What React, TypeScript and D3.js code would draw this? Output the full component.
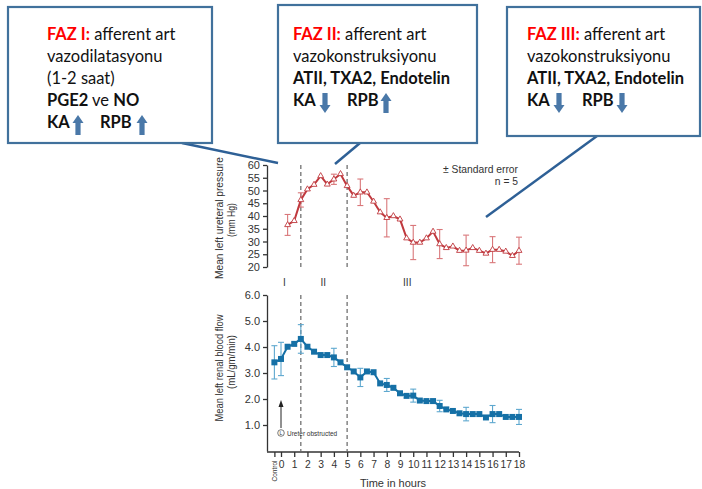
import React, { useEffect, useRef } from 'react';
import * as d3 from 'd3';

// ureteral pressure (mm Hg), every half hour after obstruction
const pressureHours = [0.5, 1, 1.5, 2, 2.5, 3, 3.5, 4, 4.5, 5, 5.5, 6, 6.5, 7, 7.5, 8, 8.5, 9, 9.5, 10, 10.5, 11, 11.5, 12, 12.5, 13, 13.5, 14, 14.5, 15, 15.5, 16, 16.5, 17, 17.5, 18];
const pressureValues = [36.5, 38.1, 46.3, 50.5, 52.3, 55.7, 52.4, 54.4, 56.5, 51.8, 48.0, 49.3, 49.3, 45.7, 41.5, 39.3, 40.0, 38.7, 31.3, 29.6, 29.6, 31.3, 33.9, 29.0, 27.5, 28.1, 26.4, 26.5, 27.5, 26.4, 25.3, 26.8, 26.8, 26.1, 24.4, 26.4];
const pressureErrHours = [0.5, 1.5, 4, 6, 8, 10, 12, 14, 16, 18];
const pressureErr = [4.1, 2.8, 2.0, 5.2, 7.5, 6.7, 5.7, 6.0, 5.1, 5.3];

// renal blood flow (mL/gm/min), -0.5 = control
const flowHours = [-0.5, 0, 0.5, 1, 1.5, 2, 2.5, 3, 3.5, 4, 4.5, 5, 5.5, 6, 6.5, 7, 7.5, 8, 8.5, 9, 9.5, 10, 10.5, 11, 11.5, 12, 12.5, 13, 13.5, 14, 14.5, 15, 15.5, 16, 16.5, 17, 17.5, 18];
const flowValues = [3.41, 3.54, 4.01, 4.12, 4.31, 4.01, 3.82, 3.69, 3.69, 3.6, 3.41, 3.22, 3.06, 2.83, 3.06, 3.03, 2.6, 2.54, 2.43, 2.22, 2.12, 2.13, 1.94, 1.92, 1.92, 1.73, 1.6, 1.54, 1.45, 1.42, 1.42, 1.42, 1.29, 1.42, 1.42, 1.31, 1.31, 1.31];
const flowErrHours = [-0.5, 0, 1.5, 4, 6, 8, 10, 12, 14, 16, 18];
const flowErr = [0.64, 0.64, 0.55, 0.35, 0.35, 0.25, 0.25, 0.22, 0.26, 0.33, 0.29];

const hourTicks = [-0.5, 0, 1, 2, 3, 4, 5, 6, 7, 8, 9, 10, 11, 12, 13, 14, 15, 16, 17, 18];
const pressureTicks = [20, 25, 30, 35, 40, 45, 50, 55, 60];
const flowTicks = [1, 2, 3, 4, 5, 6];
const phaseLines = [1.5, 5];
const phaseLabels = ['I', 'II', 'III'];
const phaseLabelHours = [0.25, 3.2, 9.55];

const RED = '#c0393e';
const RED_ERR = '#d9777a';
const BLUE = '#1570a6';
const BLUE_ERR = '#5ea8cf';
const BOX = '#41719c';
const FONT = '"Liberation Sans", Arial, sans-serif';
const BOX_FONT = 'Lato, "Open Sans", sans-serif';

type Seg = { t: string; b?: boolean; red?: boolean };
const callouts: { x: number; y: number; w: number; h: number; tx: number; lines: Seg[][]; tail: number[]; arrows: { x: number; up: boolean }[]; labels: { x: number; t: string }[] }[] = [
  {
    x: 8, y: 7, w: 204, h: 136, tx: 47,
    lines: [
      [{ t: 'FAZ I:', b: true, red: true }, { t: ' afferent art' }],
      [{ t: 'vazodilatasyonu' }],
      [{ t: '(1-2 saat)' }],
      [{ t: 'PGE2', b: true }, { t: ' ve ' }, { t: 'NO', b: true }],
    ],
    tail: [182, 143, 278, 163],
    labels: [{ x: 47, t: 'KA' }, { x: 100, t: 'RPB' }],
    arrows: [{ x: 78, up: true }, { x: 142, up: true }],
  },
  {
    x: 278, y: 5, w: 199, h: 138, tx: 293,
    lines: [
      [{ t: 'FAZ II:', b: true, red: true }, { t: ' afferent art' }],
      [{ t: 'vazokonstruksiyonu' }],
      [{ t: 'ATII, TXA2, Endotelin', b: true }],
    ],
    tail: [360, 143, 335, 164],
    labels: [{ x: 293, t: 'KA' }, { x: 347, t: 'RPB' }],
    arrows: [{ x: 325, up: false }, { x: 386, up: true }],
  },
  {
    x: 507, y: 7, w: 193, h: 129, tx: 527,
    lines: [
      [{ t: 'FAZ III:', b: true, red: true }, { t: ' afferent art' }],
      [{ t: 'vazokonstruksiyonu' }],
      [{ t: 'ATII, TXA2, Endotelin', b: true }],
    ],
    tail: [597, 136, 486, 217],
    labels: [{ x: 527, t: 'KA' }, { x: 582, t: 'RPB' }],
    arrows: [{ x: 559, up: false }, { x: 622, up: false }],
  },
];

const App: React.FC = () => {
  const ref = useRef<SVGSVGElement | null>(null);

  useEffect(() => {
    if (!ref.current) return;
    const svg = d3.select(ref.current);
    svg.selectAll('*').remove();

    const x = d3.scaleLinear().domain([0, 18]).range([281, 519]);
    const yP = d3.scaleLinear().domain([20, 60]).range([267, 165]);
    const yF = d3.scaleLinear().domain([0, 6]).range([451, 295]);

    const title = (tx: number, ty: number, text: string, len?: number) => {
      const t = svg.append('text')
        .attr('transform', `translate(${tx},${ty}) rotate(-90)`)
        .attr('text-anchor', 'middle')
        .style('font-family', FONT).style('font-size', '11.5px').attr('fill', '#333')
        .text(text);
      if (len) t.attr('textLength', len).attr('lengthAdjust', 'spacingAndGlyphs');
    };

    // ---- top panel: pressure
    const axP = svg.append('g')
      .attr('transform', 'translate(267,0)')
      .call(d3.axisLeft(yP).tickValues(pressureTicks).tickSize(4).tickSizeOuter(0).tickPadding(3));
    axP.selectAll('text').style('font-size', '11px').style('font-family', FONT).attr('fill', '#333');
    axP.selectAll('line,path').attr('stroke', '#333').attr('stroke-width', 1.3);

    title(223, 218, 'Mean left ureteral pressure', 122);
    title(235, 220, '(mm Hg)', 34);

    phaseLines.forEach(h => {
      svg.append('line').attr('x1', x(h)).attr('x2', x(h)).attr('y1', 165).attr('y2', 267)
        .attr('stroke', '#666').attr('stroke-width', 1.2).attr('stroke-dasharray', '4,3');
      svg.append('line').attr('x1', x(h)).attr('x2', x(h)).attr('y1', 295).attr('y2', 451)
        .attr('stroke', '#666').attr('stroke-width', 1.2).attr('stroke-dasharray', '4,3');
    });

    phaseLabels.forEach((l, i) => {
      svg.append('text').attr('x', x(phaseLabelHours[i])).attr('y', 286)
        .attr('text-anchor', 'middle')
        .style('font-family', FONT).style('font-size', '10px').attr('fill', '#333')
        .text(l);
    });

    svg.append('text').attr('x', 518).attr('y', 173).attr('text-anchor', 'end')
      .style('font-family', FONT).style('font-size', '10.3px').attr('fill', '#333')
      .text('± Standard error');
    svg.append('text').attr('x', 518).attr('y', 185).attr('text-anchor', 'end')
      .style('font-family', FONT).style('font-size', '10.3px').attr('fill', '#333')
      .text('n = 5');

    const drawErr = (hours: number[], err: number[], hs: number[], vs: number[], y: d3.ScaleLinear<number, number>, color: string) => {
      hours.forEach((h, i) => {
        const v = vs[hs.indexOf(h)];
        const g = svg.append('g').attr('stroke', color).attr('stroke-width', 1.1);
        g.append('line').attr('x1', x(h)).attr('x2', x(h)).attr('y1', y(v - err[i])).attr('y2', y(v + err[i]));
        g.append('line').attr('x1', x(h) - 3).attr('x2', x(h) + 3).attr('y1', y(v - err[i])).attr('y2', y(v - err[i]));
        g.append('line').attr('x1', x(h) - 3).attr('x2', x(h) + 3).attr('y1', y(v + err[i])).attr('y2', y(v + err[i]));
      });
    };

    drawErr(pressureErrHours, pressureErr, pressureHours, pressureValues, yP, RED_ERR);

    const lineP = d3.line<number>().x((d, i) => x(pressureHours[i])).y(d => yP(d));
    svg.append('path').datum(pressureValues).attr('d', lineP)
      .attr('fill', 'none').attr('stroke', RED).attr('stroke-width', 2);
    svg.selectAll('path.tri').data(pressureValues).enter().append('path')
      .attr('class', 'tri')
      .attr('transform', (d, i) => `translate(${x(pressureHours[i])},${yP(d)})`)
      .attr('d', d3.symbol(d3.symbolTriangle).size(15)()!)
      .attr('fill', '#fff').attr('stroke', RED).attr('stroke-width', 0.9);

    // ---- bottom panel: flow
    const axF = svg.append('g')
      .attr('transform', 'translate(267,0)')
      .call(d3.axisLeft(yF).tickValues(flowTicks).tickFormat(d3.format('.1f') as any).tickSize(4).tickSizeOuter(0).tickPadding(3));
    axF.selectAll('text').style('font-size', '11px').style('font-family', FONT).attr('fill', '#333');
    axF.selectAll('line,path').attr('stroke', '#333').attr('stroke-width', 1.3);

    title(223, 368, 'Mean left renal blood flow', 107);
    title(235, 362, '(mL/gm/min)', 54);

    const axX = svg.append('g')
      .attr('transform', 'translate(0,452)')
      .call(d3.axisBottom(x).tickValues(hourTicks).tickSize(5).tickSizeOuter(0).tickPadding(4)
        .tickFormat((d: any) => (d < 0 ? '' : String(d))));
    axX.select('.domain').remove();
    axX.selectAll('text').style('font-size', '10.3px').style('font-family', FONT).attr('fill', '#333');
    axX.selectAll('line').attr('stroke', '#333').attr('stroke-width', 1.3);
    svg.append('line').attr('x1', 267).attr('x2', 519).attr('y1', 452).attr('y2', 452)
      .attr('stroke', '#333').attr('stroke-width', 1.3);

    svg.append('text')
      .attr('transform', `translate(${x(-0.5) + 2.5},471) rotate(-90)`)
      .attr('text-anchor', 'middle')
      .style('font-family', FONT).style('font-size', '6.5px').attr('fill', '#333')
      .text('Control');

    svg.append('text').attr('x', 393).attr('y', 487).attr('text-anchor', 'middle')
      .style('font-family', FONT).style('font-size', '11px').attr('fill', '#333')
      .text('Time in hours');

    // ureter obstructed marker
    svg.append('line').attr('x1', x(0)).attr('x2', x(0)).attr('y1', 428).attr('y2', 406)
      .attr('stroke', '#222').attr('stroke-width', 1);
    svg.append('path')
      .attr('d', `M${x(0)},400 L${x(0) - 2.5},407 L${x(0) + 2.5},407 Z`)
      .attr('fill', '#222');
    svg.append('circle').attr('cx', x(0)).attr('cy', 433).attr('r', 3.3)
      .attr('fill', '#fff').attr('stroke', '#444').attr('stroke-width', 0.7);
    svg.append('text').attr('x', x(0)).attr('y', 435).attr('text-anchor', 'middle')
      .style('font-family', FONT).style('font-size', '5px').attr('fill', '#333').text('L');
    svg.append('text').attr('x', x(0) + 6).attr('y', 435.5)
      .style('font-family', FONT).style('font-size', '6.5px').attr('fill', '#333').text('Ureter obstructed');

    drawErr(flowErrHours, flowErr, flowHours, flowValues, yF, BLUE_ERR);

    const lineF = d3.line<number>().x((d, i) => x(flowHours[i])).y(d => yF(d));
    svg.append('path').datum(flowValues).attr('d', lineF)
      .attr('fill', 'none').attr('stroke', BLUE).attr('stroke-width', 2);
    svg.selectAll('rect.sq').data(flowValues).enter().append('rect')
      .attr('class', 'sq')
      .attr('x', (d, i) => x(flowHours[i]) - 3)
      .attr('y', d => yF(d) - 3)
      .attr('width', 6).attr('height', 6)
      .attr('fill', BLUE);

    // ---- callout boxes
    const arrowPath = (cx: number, top: number, bottom: number, up: boolean) => {
      const hw = 5.5, sw = 2.6, hh = 8;
      if (up) {
        return `M${cx},${top} L${cx + hw},${top + hh} L${cx + sw},${top + hh} L${cx + sw},${bottom} L${cx - sw},${bottom} L${cx - sw},${top + hh} L${cx - hw},${top + hh} Z`;
      }
      return `M${cx},${bottom} L${cx + hw},${bottom - hh} L${cx + sw},${bottom - hh} L${cx + sw},${top} L${cx - sw},${top} L${cx - sw},${bottom - hh} L${cx - hw},${bottom - hh} Z`;
    };

    callouts.forEach(c => {
      svg.append('line').attr('x1', c.tail[0]).attr('y1', c.tail[1]).attr('x2', c.tail[2]).attr('y2', c.tail[3])
        .attr('stroke', '#2e6096').attr('stroke-width', 2.5);
      svg.append('rect').attr('x', c.x).attr('y', c.y).attr('width', c.w).attr('height', c.h)
        .attr('fill', '#fff').attr('stroke', BOX).attr('stroke-width', 2.2);
      c.lines.forEach((ln, li) => {
        const t = svg.append('text').attr('x', c.tx).attr('y', 40 + li * 22)
          .style('font-family', BOX_FONT).style('font-size', '16.5px').attr('fill', '#111');
        ln.forEach(s => {
          t.append('tspan').text(s.t)
            .attr('font-weight', s.b ? 'bold' : 'normal')
            .attr('fill', s.red ? '#ff0000' : '#111')
            .style('white-space', 'pre');
        });
      });
      const lastY = 40 + c.lines.length * 22;
      c.labels.forEach(l => {
        svg.append('text').attr('x', l.x).attr('y', lastY)
          .style('font-family', BOX_FONT).style('font-size', '16.5px').attr('font-weight', 'bold').attr('fill', '#111')
          .text(l.t);
      });
      c.arrows.forEach(a => {
        svg.append('path').attr('d', arrowPath(a.x, lastY - 13, lastY + 7, a.up)).attr('fill', '#4a78a8');
      });
    });
  }, []);

  return (
    <svg
      ref={ref}
      width={702}
      height={489}
      style={{ position: 'absolute', left: 0, top: 0, background: '#fff' }}
    />
  );
};

export default App;
